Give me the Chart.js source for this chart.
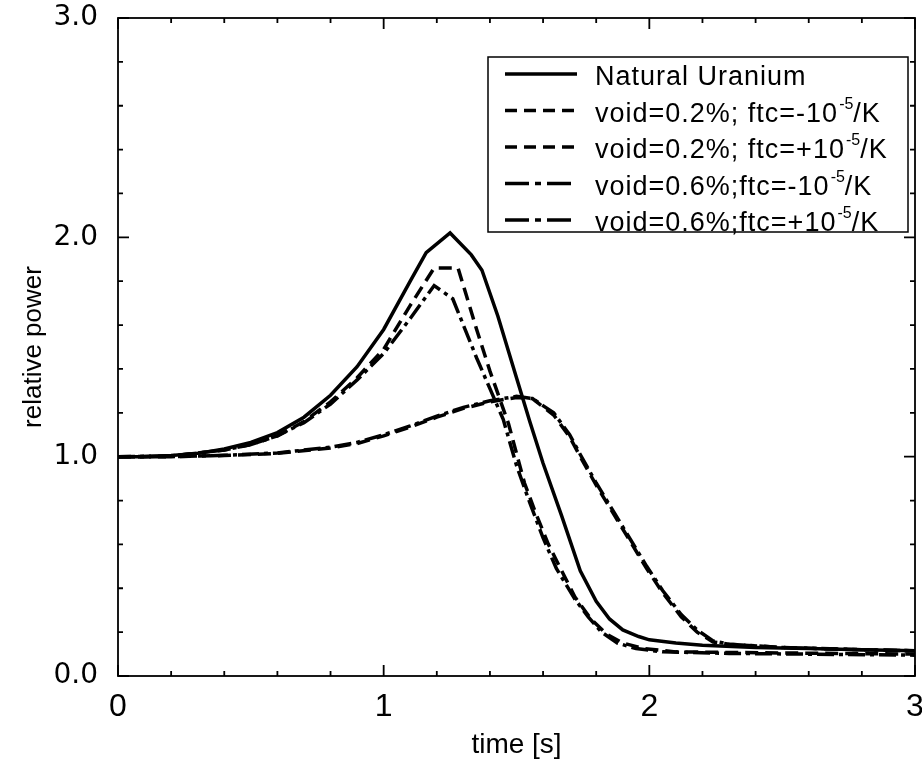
<!DOCTYPE html>
<html>
<head>
<meta charset="utf-8">
<script src="https://cdn.jsdelivr.net/npm/chart.js@4.4.0/dist/chart.umd.min.js"></script>
<style>
  html, body { margin: 0; padding: 0; background: #fff; }
</style>
</head>
<body>
<canvas id="powerChart" width="922" height="762"></canvas>
<script>
// time [s] / relative power
var timeNatural  = [0, 0.1, 0.2, 0.3, 0.4, 0.5, 0.6, 0.7, 0.8, 0.9, 1.0, 1.1, 1.16, 1.25, 1.33, 1.37, 1.43, 1.5, 1.55, 1.6, 1.67, 1.74, 1.8, 1.85, 1.9, 1.96, 2.0, 2.1, 2.2, 2.4, 2.6, 2.8, 3.0];
var powerNatural = [1.0, 1.0, 1.005, 1.015, 1.035, 1.065, 1.11, 1.18, 1.28, 1.41, 1.58, 1.80, 1.93, 2.02, 1.92, 1.85, 1.64, 1.36, 1.16, 0.97, 0.73, 0.48, 0.34, 0.26, 0.21, 0.18, 0.165, 0.15, 0.14, 0.13, 0.125, 0.12, 0.115];

var timeV02Minus  = [0, 0.2, 0.4, 0.6, 0.8, 0.9, 1.0, 1.1, 1.2, 1.3, 1.4, 1.5, 1.56, 1.64, 1.7, 1.74, 1.8, 1.87, 1.93, 1.99, 2.05, 2.12, 2.18, 2.24, 2.3, 2.5, 2.8, 3.0];
var powerV02Minus = [1.0, 1.0, 1.005, 1.015, 1.04, 1.06, 1.095, 1.135, 1.18, 1.22, 1.25, 1.27, 1.265, 1.19, 1.09, 1.0, 0.87, 0.73, 0.61, 0.49, 0.38, 0.27, 0.2, 0.155, 0.145, 0.13, 0.12, 0.115];

var timeV02Plus  = [0, 0.2, 0.4, 0.5, 0.6, 0.7, 0.8, 0.9, 1.0, 1.1, 1.19, 1.28, 1.31, 1.35, 1.4, 1.47, 1.53, 1.57, 1.62, 1.67, 1.72, 1.78, 1.84, 1.9, 1.98, 2.1, 2.5, 3.0];
var powerV02Plus = [1.0, 1.003, 1.03, 1.055, 1.095, 1.16, 1.25, 1.36, 1.49, 1.69, 1.86, 1.86, 1.74, 1.58, 1.39, 1.15, 0.88, 0.75, 0.60, 0.48, 0.36, 0.26, 0.19, 0.15, 0.125, 0.11, 0.105, 0.10];

var timeV06Minus  = [0, 0.2, 0.4, 0.6, 0.8, 0.9, 1.0, 1.1, 1.2, 1.3, 1.4, 1.5, 1.56, 1.64, 1.7, 1.74, 1.8, 1.87, 1.93, 1.99, 2.05, 2.12, 2.18, 2.24, 2.3, 2.5, 2.8, 3.0];
var powerV06Minus = [1.0, 1.0, 1.006, 1.017, 1.043, 1.065, 1.1, 1.14, 1.185, 1.225, 1.255, 1.275, 1.265, 1.2, 1.1, 1.01, 0.88, 0.74, 0.62, 0.5, 0.39, 0.28, 0.21, 0.16, 0.145, 0.13, 0.12, 0.115];

var timeV06Plus  = [0, 0.2, 0.4, 0.5, 0.6, 0.7, 0.8, 0.9, 1.0, 1.1, 1.19, 1.26, 1.3, 1.35, 1.4, 1.45, 1.5, 1.55, 1.6, 1.65, 1.72, 1.77, 1.82, 1.88, 1.95, 2.05, 2.3, 3.0];
var powerV06Plus = [1.0, 1.003, 1.03, 1.055, 1.095, 1.155, 1.24, 1.35, 1.47, 1.63, 1.78, 1.72, 1.60, 1.45, 1.31, 1.17, 0.96, 0.79, 0.63, 0.49, 0.35, 0.27, 0.20, 0.15, 0.125, 0.11, 0.103, 0.095];

// legend text: main part, superscript, tail
var legendMain = ['Natural Uranium', 'void=0.2%; ftc=-10', 'void=0.2%; ftc=+10', 'void=0.6%;ftc=-10', 'void=0.6%;ftc=+10'];
var legendSup  = ['', '-5', '-5', '-5', '-5'];
var legendTail = ['', '/K', '/K', '/K', '/K'];

var xMin = 0, xMax = 3, xStep = 0.2;
var yMin = 0, yMax = 3, yStep = 0.2;

function toPoints(ts, ps) {
    return ts.map(function (t, i) { return { x: t, y: ps[i] }; });
}
function isWhole(v) {
    return Math.abs(v - Math.round(v)) < 1e-6;
}

var DASHED = [13, 7];
var DASHDOT = [17, 5, 4, 5];

var frameTicks = {
    id: 'frameTicks',
    afterDatasetsDraw: function (chart) {
        var ctx = chart.ctx, a = chart.chartArea;
        var xs = chart.scales.x, ys = chart.scales.y;
        ctx.save();
        ctx.strokeStyle = '#000';
        ctx.lineWidth = 1.8;
        ctx.setLineDash([]);
        ctx.strokeRect(a.left, a.top, a.right - a.left, a.bottom - a.top);
        ctx.beginPath();
        xs.ticks.forEach(function (t) {
            var px = xs.getPixelForValue(t.value);
            var len = isWhole(t.value) ? 11 : 5;
            ctx.moveTo(px, a.bottom); ctx.lineTo(px, a.bottom - len);
            ctx.moveTo(px, a.top); ctx.lineTo(px, a.top + len);
        });
        ys.ticks.forEach(function (t) {
            var py = ys.getPixelForValue(t.value);
            var len = isWhole(t.value) ? 11 : 5;
            ctx.moveTo(a.left, py); ctx.lineTo(a.left + len, py);
            ctx.moveTo(a.right, py); ctx.lineTo(a.right - len, py);
        });
        ctx.stroke();
        ctx.restore();
    }
};

var boxLegend = {
    id: 'boxLegend',
    afterDraw: function (chart) {
        var ctx = chart.ctx, a = chart.chartArea;
        var w = 420, h = 175;
        var left = a.right - w - 7, top = a.top + 39, rowH = 36.5;
        ctx.save();
        ctx.fillStyle = '#fff';
        ctx.fillRect(left, top, w, h);
        ctx.strokeStyle = '#000';
        ctx.lineWidth = 1.5;
        ctx.strokeRect(left, top, w, h);
        chart.data.datasets.forEach(function (ds, i) {
            var cy = top + 17 + i * rowH;
            var dash = ds.borderDash || [];
            if (dash.length === 4) dash = [24, 6, 6, 6];
            if (dash.length === 2) dash = [12, 7];
            ctx.setLineDash(dash);
            ctx.lineWidth = 3.5;
            ctx.strokeStyle = '#000';
            ctx.beginPath();
            ctx.moveTo(left + 17, cy);
            ctx.lineTo(left + 89, cy);
            ctx.stroke();
            ctx.setLineDash([]);
            ctx.fillStyle = '#000';
            ctx.textBaseline = 'alphabetic';
            ctx.letterSpacing = '1px';
            ctx.font = '27px "Liberation Sans", Arial, sans-serif';
            var tx = left + 107, base = cy + 11;
            ctx.fillText(legendMain[i], tx, base);
            tx += ctx.measureText(legendMain[i]).width;
            if (legendSup[i]) {
                ctx.font = '16px "Liberation Sans", Arial, sans-serif';
                ctx.letterSpacing = '0px';
                ctx.fillText(legendSup[i], tx + 1, base - 13);
                tx += ctx.measureText(legendSup[i]).width + 1;
                ctx.font = '27px "Liberation Sans", Arial, sans-serif';
                ctx.letterSpacing = '1px';
                ctx.fillText(legendTail[i], tx, base);
            }
        });
        ctx.restore();
    }
};

var ctx = document.getElementById('powerChart');
var powerChart = new Chart(ctx, {
    type: 'line',
    data: {
        datasets: [{
            label: 'Natural Uranium',
            data: toPoints(timeNatural, powerNatural),
            borderColor: '#000',
            borderWidth: 3.5
        }, {
            label: 'void=0.2%; ftc=-10^-5/K',
            data: toPoints(timeV02Minus, powerV02Minus),
            borderColor: '#000',
            borderWidth: 3.5,
            borderDash: DASHED
        }, {
            label: 'void=0.2%; ftc=+10^-5/K',
            data: toPoints(timeV02Plus, powerV02Plus),
            borderColor: '#000',
            borderWidth: 3.5,
            borderDash: DASHED
        }, {
            label: 'void=0.6%;ftc=-10^-5/K',
            data: toPoints(timeV06Minus, powerV06Minus),
            borderColor: '#000',
            borderWidth: 3.5,
            borderDash: DASHDOT
        }, {
            label: 'void=0.6%;ftc=+10^-5/K',
            data: toPoints(timeV06Plus, powerV06Plus),
            borderColor: '#000',
            borderWidth: 3.5,
            borderDash: DASHDOT
        }]
    },
    options: {
        responsive: false,
        animation: false,
        devicePixelRatio: 1,
        layout: { padding: { left: 0, right: 7, top: 18, bottom: 0 } },
        elements: {
            point: { radius: 0 },
            line: { tension: 0, fill: false, borderCapStyle: 'butt' }
        },
        plugins: {
            legend: { display: false },
            tooltip: { enabled: false }
        },
        scales: {
            x: {
                type: 'linear',
                min: xMin,
                max: xMax,
                grid: { display: false, drawTicks: false },
                border: { display: false },
                ticks: {
                    stepSize: xStep,
                    autoSkip: false,
                    maxRotation: 0,
                    padding: 12,
                    color: '#000',
                    font: { family: '"Liberation Sans", Arial, sans-serif', size: 32 },
                    callback: function (v) { return isWhole(v) ? String(Math.round(v)) : ''; }
                },
                title: {
                    display: true,
                    text: 'time [s]',
                    color: '#000',
                    font: { family: '"Liberation Sans", Arial, sans-serif', size: 28 },
                    padding: { top: 0, bottom: 0 }
                },
                afterFit: function (scale) {
                    scale.height = 86;
                    scale.paddingLeft = 0;
                    scale.paddingRight = 0;
                }
            },
            y: {
                min: yMin,
                max: yMax,
                grid: { display: false, drawTicks: false },
                border: { display: false },
                ticks: {
                    stepSize: yStep,
                    autoSkip: false,
                    padding: 20,
                    color: '#000',
                    font: { family: '"DejaVu Sans", sans-serif', size: 28 },
                    callback: function (v) { return isWhole(v) ? v.toFixed(1) : ''; }
                },
                title: {
                    display: true,
                    text: 'relative power',
                    color: '#000',
                    font: { family: '"Liberation Sans", Arial, sans-serif', size: 26 },
                    padding: { top: 18, bottom: 0 }
                },
                afterFit: function (scale) {
                    scale.width = 118;
                    scale.paddingTop = 0;
                    scale.paddingBottom = 0;
                }
            }
        }
    },
    plugins: [frameTicks, boxLegend]
});
</script>
</body>
</html>
